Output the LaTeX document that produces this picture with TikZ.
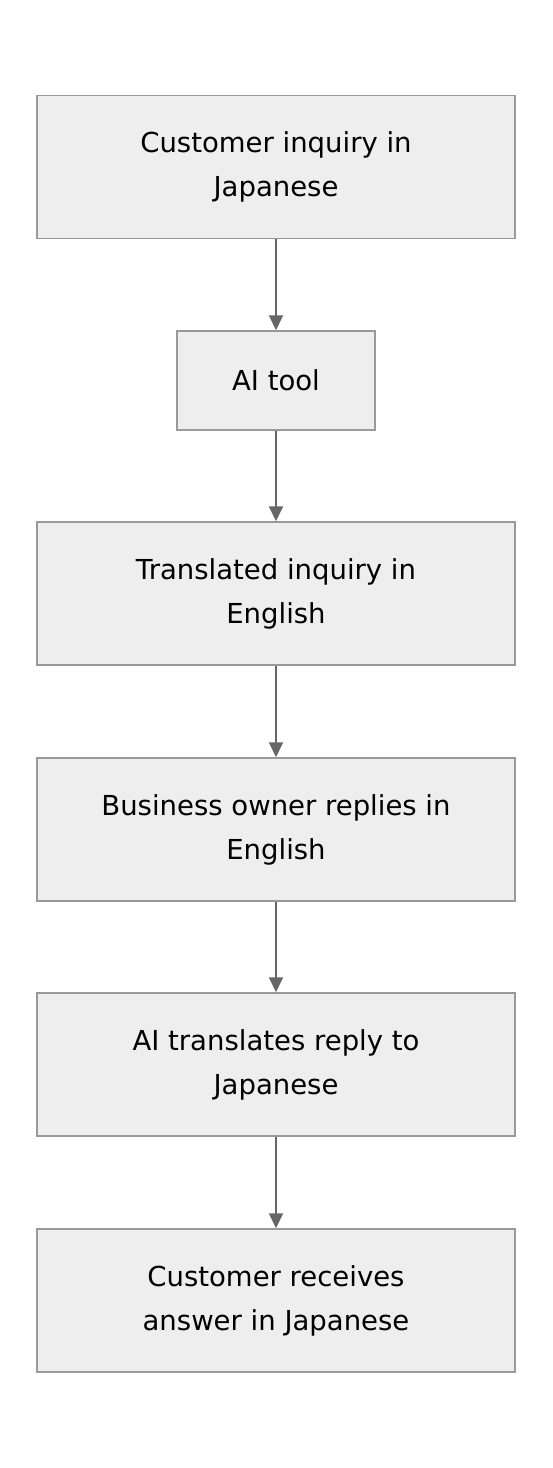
\documentclass[tikz,border=0pt]{standalone}
\usepackage{fontspec}
\setmainfont{DejaVu Sans}
\usetikzlibrary{arrows.meta}
\definecolor{boxfill}{HTML}{EEEEEE}
\definecolor{boxline}{HTML}{999999}
\definecolor{arrowc}{HTML}{666666}
\tikzset{
  flowbox/.style={draw=boxline, fill=boxfill, line width=1.5pt, minimum width=478pt, minimum height=143pt, align=center, font=\fontsize{27.5}{44}\selectfont, inner sep=0pt},
  smallbox/.style={flowbox, minimum width=198pt, minimum height=99pt},
  flowarrow/.style={draw=arrowc, line width=2pt, -{Triangle[length=15pt,width=14pt]}}
}
\begin{document}
\begin{tikzpicture}[x=1pt,y=-1pt]
\useasboundingbox (0,0) rectangle (552,1468);
\node[flowbox] (a) at (276,167) {Customer inquiry in\\Japanese};
\node[smallbox] (b) at (276,380.5) {AI tool};
\node[flowbox] (c) at (276,593.5) {Translated inquiry in\\English};
\node[flowbox] (d) at (276,829.5) {Business owner replies in\\English};
\node[flowbox] (e) at (276,1064.5) {AI translates reply to\\Japanese};
\node[flowbox] (f) at (276,1300.5) {Customer receives\\answer in Japanese};
\draw[flowarrow] (a) -- (b);
\draw[flowarrow] (b) -- (c);
\draw[flowarrow] (c) -- (d);
\draw[flowarrow] (d) -- (e);
\draw[flowarrow] (e) -- (f);
\end{tikzpicture}
\end{document}
